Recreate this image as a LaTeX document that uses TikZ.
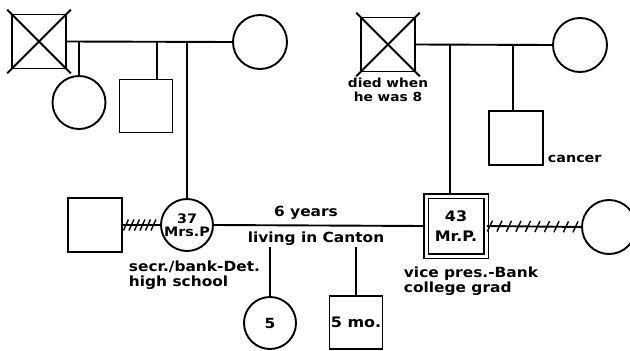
\documentclass[tikz,border=0pt]{standalone}
\usepackage{fontspec}
\setmainfont{DejaVu Sans}[FakeStretch=1.1]
\usetikzlibrary{positioning,calc,decorations.markings}

\begin{document}
\begin{tikzpicture}[x=1pt, y=-1pt, line width=1.9pt,
  font=\bfseries\fontsize{14}{15}\selectfont,
  male/.style={draw, rectangle, minimum size=#1, inner sep=0pt, align=center},
  female/.style={draw, circle, minimum size=#1, inner sep=0pt, align=center},
  hatch/.style={postaction={decorate, decoration={markings,
    mark=between positions 3pt and -2pt step #1 with {\draw[line width=1.4pt] (-2.5pt,-5.5pt) -- (2.5pt,5.5pt);}}}},
  lbl/.style={inner sep=0pt, align=left}]
\useasboundingbox (0,0) rectangle (630,351);
% left grandparents
\node[male=54] (gpL) at (39,41.5) {};
\draw ($(gpL.north west)!-0.07!(gpL.south east)$) -- ($(gpL.south east)!-0.07!(gpL.north west)$);
\draw ($(gpL.north east)!-0.07!(gpL.south west)$) -- ($(gpL.south west)!-0.07!(gpL.north east)$);
\node[female=54] (gmL) at (260,42) {};
\node[female=53] (aunt) at (79,102.5) {};
\node[male=53] (uncle) at (146,106) {};
\draw (gpL.east) -- (gmL.west);
\draw (aunt.north) -- (aunt.north |- gpL.east);
\draw ([xshift=11pt]uncle.north) -- ([xshift=11pt]uncle.north |- gpL.east);
% right grandparents
\node[male=54] (gpR) at (388,44.5) {};
\draw ($(gpR.north west)!-0.07!(gpR.south east)$) -- ($(gpR.south east)!-0.07!(gpR.north west)$);
\draw ($(gpR.north east)!-0.07!(gpR.south west)$) -- ($(gpR.south west)!-0.07!(gpR.north east)$);
\node[lbl, align=center, below=5pt of gpR, font=\bfseries\fontsize{12.5}{14}\selectfont] (died) {died when\\he was 8};
\node[female=54] (gmR) at (580,45) {};
\node[male=54] (uncleR) at (516,138) {};
\node[lbl, anchor=south west, font=\bfseries\fontsize{13}{14}\selectfont] (cancer) at (547,164) {cancer};
\draw (gpR.east) -- (gmR.west);
\draw ([xshift=-3pt]uncleR.north) -- ([xshift=-3pt]uncleR.north |- gpR.east);
% couple
\node[female=52, font=\bfseries\fontsize{13}{13}\selectfont] (mrsP) at (187,225) {37\\Mrs.P};
\node[male=60, double, double distance=3pt, font=\bfseries\fontsize{14.5}{20}\selectfont] (mrP) at (456,226) {43\\Mr.P.};
\draw (mrsP.north) -- (mrsP.north |- gpL.east);
\draw ([xshift=-6pt]mrP.north) -- ([xshift=-6pt]mrP.north |- gpR.east);
\draw (mrsP.east) -- (mrP.west);
\node[lbl, anchor=south] (years) at (306,220) {6 years};
\node[lbl, anchor=north] (canton) at (316,231) {living in Canton};
\node[lbl, anchor=north west] (mrsJob) at (128,260) {secr./bank-Det.\\high school};
\node[lbl, anchor=north west] (mrJob) at (403,266) {vice pres.-Bank\\college grad};
% former partners
\node[male=54] (exL) at (95,225) {};
\node[female=54] (exR) at (609,227) {};
\draw[hatch=5.5pt] (exL.east) -- (mrsP.west);
\draw[hatch=9.5pt] (mrP.east) -- (exR.west);
% children
\node[female=52] (dau) at (270,323) {5};
\node[male=53, font=\bfseries\fontsize{14.5}{15}\selectfont] (son) at (356,322.5) {5 mo.};
\draw (dau.north) -- (dau.north |- canton.south);
\draw (son.north) -- (son.north |- canton.south);
\end{tikzpicture}
\end{document}
